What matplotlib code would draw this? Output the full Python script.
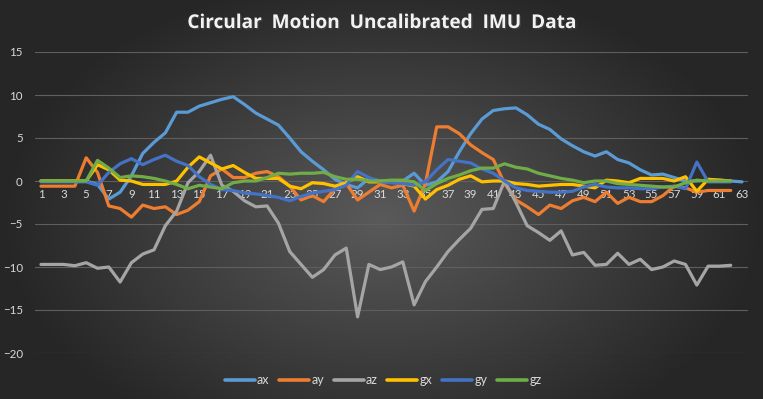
import numpy as np
import matplotlib
matplotlib.use("Agg")
import matplotlib.pyplot as plt
import matplotlib.patheffects as pe

# IMU readings per sample
ax_vals = [0, 0, 0, 0, 0, -0.4, -2.1, -1.3, 0.6, 3.2,
           4.5, 5.6, 8.0, 8.0, 8.7, 9.1, 9.5, 9.8, 8.9, 7.9,
           7.2, 6.5, 5.0, 3.4, 2.3, 1.3, 0.2, -0.4, -0.8, 0.3,
           0.0, 0.0, 0.0, 0.9, -0.5, -0.1, 1.1, 3.4, 5.5, 7.2,
           8.2, 8.4, 8.5, 7.7, 6.6, 6.0, 4.9, 4.1, 3.4, 2.9,
           3.4, 2.5, 2.1, 1.3, 0.7, 0.8, 0.4, 0.0, 0.0, 0.1,
           0.1, 0.0, -0.1]
ay_vals = [-0.6, -0.6, -0.6, -0.6, 2.7, 1.0, -2.9, -3.2, -4.2, -2.8,
           -3.2, -3.0, -3.9, -3.4, -2.4, 0.6, 1.4, 0.4, 0.4, 0.9,
           1.1, 0.5, -0.6, -2.2, -1.7, -2.4, -0.9, -0.3, -2.2, -1.3,
           -0.4, -0.8, -0.5, -3.5, -0.3, 6.3, 6.3, 5.5, 4.2, 3.3,
           2.5, -0.3, -2.2, -3.0, -3.9, -2.8, -3.2, -2.3, -1.9, -2.4,
           -1.3, -2.6, -1.9, -2.4, -2.4, -1.7, -0.6, -0.8, -1.3, -1.1,
           -1.1, -1.1]
az_vals = [-9.7, -9.7, -9.7, -9.85, -9.5, -10.15, -10.0, -11.75, -9.5, -8.5,
           -8.0, -5.2, -3.5, -0.2, 1.1, 3.0, -0.5, -1.2, -2.3, -3.0,
           -2.9, -4.9, -8.2, -9.7, -11.2, -10.3, -8.6, -7.8, -15.8, -9.7,
           -10.3, -10.0, -9.4, -14.4, -11.7, -10.0, -8.2, -6.8, -5.5, -3.3,
           -3.2, 0.0, -2.5, -5.2, -6.0, -6.9, -5.8, -8.6, -8.3, -9.8,
           -9.7, -8.4, -9.7, -9.1, -10.3, -10.0, -9.3, -9.7, -12.1, -9.9,
           -9.9, -9.8]
gx_vals = [0, 0, 0, 0, 0, 1.9, 1.3, 0.1, 0.0, -0.4,
           -0.4, -0.4, 0.0, 1.6, 2.8, 2.1, 1.4, 1.8, 1.0, 0.3,
           0.3, 0.3, -0.6, -0.9, -0.2, -0.3, -0.6, -0.2, 0.5, -0.1,
           -0.1, -0.1, -0.3, -0.6, -2.1, -1.0, -0.5, 0.2, 0.6, -0.1,
           0.0, 0.0, -0.3, -0.4, -0.6, -0.5, -0.4, -0.4, -0.6, -0.8,
           0.1, 0.0, -0.2, 0.3, 0.3, 0.3, 0.0, 0.5, -1.2, 0.2,
           0.1, 0.0]
gy_vals = [-0.1, -0.1, -0.1, -0.1, -0.1, -0.5, 1.0, 2.0, 2.6, 1.9,
           2.5, 3.0, 2.3, 1.8, 0.5, -0.4, -1.0, -1.1, -1.4, -1.5,
           -1.7, -1.9, -2.3, -1.8, -1.4, -1.2, -1.0, -0.5, 1.1, 0.4,
           -0.1, -0.2, -0.3, -0.5, -0.1, 1.3, 2.5, 2.3, 2.1, 1.4,
           0.9, 0.0, -0.8, -1.1, -1.2, -1.3, -1.3, -1.2, -0.7, -0.4,
           -0.7, -0.8, -0.8, -0.9, -0.9, -0.7, -0.6, -0.9, 2.2, -0.1,
           -0.1, -0.1]
gz_vals = [0, 0, 0, 0, 0, 2.4, 1.5, 0.4, 0.6, 0.5,
           0.3, 0.0, -0.4, -0.9, -0.5, -0.7, -0.9, -0.2, 0.0, 0.0,
           0.4, 0.9, 0.8, 0.9, 0.9, 1.0, 0.5, 0.2, 0.2, 0.0,
           0.0, 0.1, 0.1, -0.1, -1.1, -0.3, 0.3, 0.7, 1.2, 1.5,
           1.5, 2.0, 1.6, 1.4, 0.9, 0.6, 0.3, 0.1, -0.2, 0.0,
           0.0, -0.3, -0.4, -0.5, -0.6, -0.7, -0.7, -0.2, 0.1, 0.0,
           0.0, 0.0]

names = ["ax", "ay", "az", "gx", "gy", "gz"]
series = [ax_vals, ay_vals, az_vals, gx_vals, gy_vals, gz_vals]
colors = ["#5B9BD5", "#ED7D31", "#A5A5A5", "#FFC000", "#4472C4", "#70AD47"]

W, H = 763, 399
fig = plt.figure(figsize=(W / 100, H / 100), dpi=100)

# radial gradient background
bg = fig.add_axes([0, 0, 1, 1], zorder=-10)
yy, xx = np.mgrid[0:H, 0:W]
r = np.sqrt(((xx - W * 0.5) / (W * 0.5)) ** 2 + ((yy - H * 0.55) / (H * 0.62)) ** 2)
r = np.clip(r, 0, 1)
c_in = np.array([0x5a, 0x5a, 0x5a]) / 255
c_out = np.array([0x26, 0x26, 0x26]) / 255
img = c_in + (c_out - c_in) * r[..., None]
bg.imshow(img, aspect="auto", interpolation="bilinear")
bg.axis("off")

left, right = 35.3 / W, 747.7 / W
bottom, top = 1 - 353 / H, 1 - 52 / H
ax = fig.add_axes([left, bottom, right - left, top - bottom])
ax.set_facecolor("none")

for name, vals, col in zip(names, series, colors):
    x = np.arange(1, len(vals) + 1)
    ax.plot(x, vals, color=col, lw=2.3, label=name,
            solid_capstyle="round", solid_joinstyle="round")

ax.set_xlim(0.5, 63.5)
ax.set_ylim(-20, 15)
ax.set_yticks(np.arange(-20, 16, 5))
ax.set_xticks(np.arange(1, 64, 2))
ax.grid(axis="y", color="#5f5f5f", lw=0.8)
ax.set_axisbelow(True)
for s in ["top", "right", "left"]:
    ax.spines[s].set_visible(False)
ax.spines["bottom"].set_position(("data", 0))
ax.spines["bottom"].set_visible(False)

ax.tick_params(axis="both", length=0, labelcolor="#D9D9D9", labelsize=8.3)
ax.tick_params(axis="x", pad=6)
ax.tick_params(axis="y", pad=9)
for lab in ax.get_xticklabels() + ax.get_yticklabels():
    lab.set_fontfamily("Lato")

fig.text(0.5, 1 - 23 / H, "Circular  Motion  Uncalibrated  IMU  Data",
         ha="center", va="center", fontsize=13.7, fontweight="bold",
         family="Open Sans", color="#F2F2F2",
         path_effects=[pe.withSimplePatchShadow(offset=(1, -1), alpha=0.6)])

leg = fig.legend(loc="center", bbox_to_anchor=(383 / W, 1 - 380 / H), ncol=6,
                 frameon=False, handlelength=2.4, handletextpad=0.2,
                 columnspacing=0.75, prop={"family": "Lato", "size": 9})
for t in leg.get_texts():
    t.set_color("#D9D9D9")
for h in leg.legend_handles:
    h.set_linewidth(2.6)
    h.set_solid_capstyle("round")

plt.savefig("out.png", dpi=100)
